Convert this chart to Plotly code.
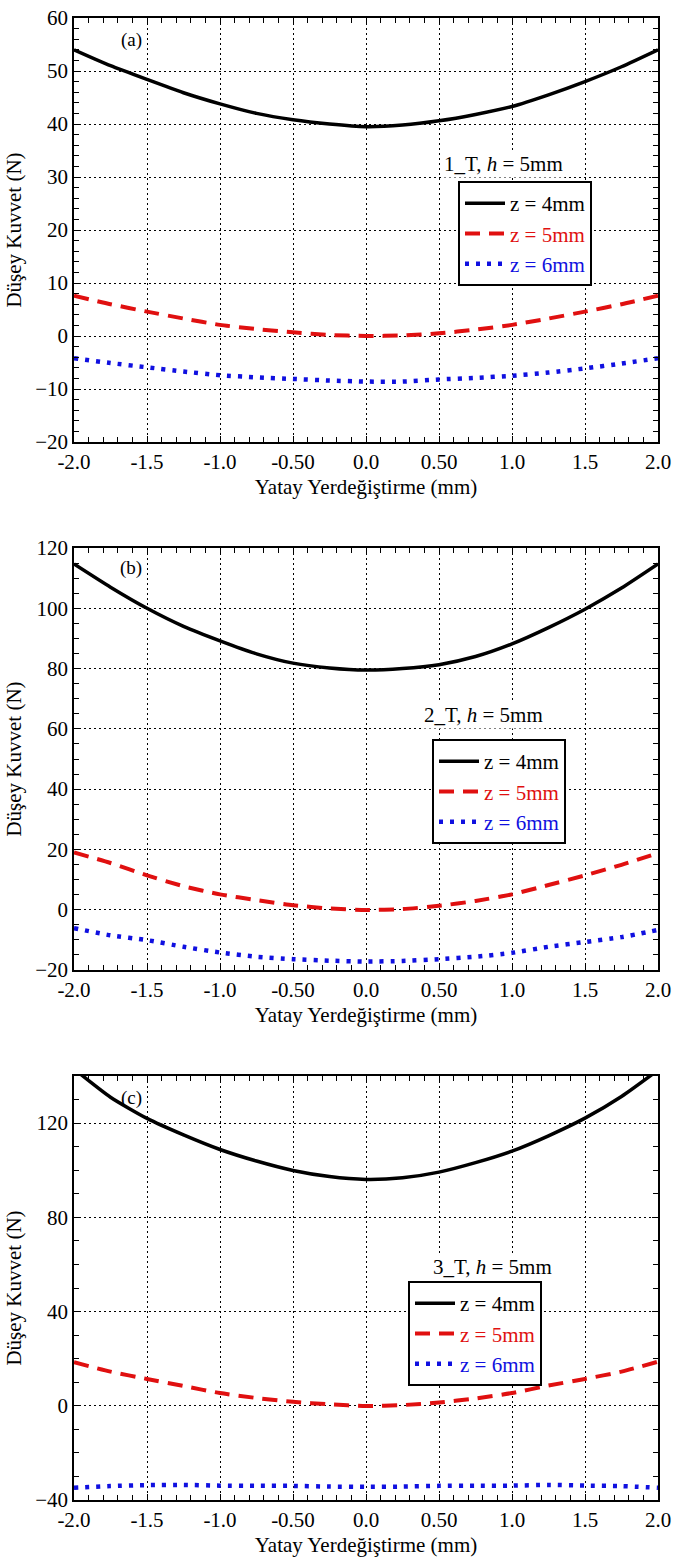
import plotly.graph_objects as go

# ---------------- data ----------------
x_vals = [-2.0, -1.75, -1.5, -1.25, -1.0, -0.75, -0.5, -0.25, 0.0,
          0.25, 0.5, 0.75, 1.0, 1.25, 1.5, 1.75, 2.0]

# panel (a) 1_T
a_z4 = [54.0, 51.0, 48.4, 45.9, 43.8, 42.0, 40.8, 40.0, 39.5,
        39.8, 40.6, 41.8, 43.3, 45.5, 48.0, 50.8, 54.0]
a_z5 = [7.6, 6.0, 4.6, 3.3, 2.1, 1.3, 0.7, 0.2, 0.0,
        0.1, 0.5, 1.2, 2.1, 3.3, 4.6, 6.0, 7.6]
a_z6 = [-4.2, -5.1, -5.9, -6.7, -7.4, -7.8, -8.1, -8.4, -8.6,
        -8.6, -8.2, -7.9, -7.5, -6.9, -6.1, -5.2, -4.2]

# panel (b) 2_T
b_z4 = [114.7, 107.0, 100.0, 94.0, 89.2, 84.9, 81.8, 80.2, 79.5,
        80.0, 81.3, 84.0, 88.2, 93.6, 99.7, 106.7, 114.7]
b_z5 = [19.0, 15.5, 11.4, 7.8, 5.1, 3.2, 1.5, 0.4, -0.1,
        0.2, 1.3, 2.9, 5.1, 8.2, 11.4, 14.9, 18.8]
b_z6 = [-6.1, -8.5, -10.1, -12.3, -14.2, -15.6, -16.4, -16.9, -17.2,
        -17.0, -16.4, -15.6, -14.3, -12.3, -10.7, -9.1, -6.7]

# panel (c) 3_T
c_z4 = [143.0, 131.0, 122.0, 115.0, 108.8, 103.9, 99.9, 97.3, 96.1,
        96.8, 99.2, 103.2, 108.1, 114.6, 122.1, 131.3, 142.5]
c_z5 = [18.5, 14.5, 11.4, 8.4, 5.4, 3.3, 1.7, 0.6, -0.1,
        0.3, 1.4, 3.1, 5.4, 8.6, 11.4, 14.5, 18.7]
c_z6 = [-34.8, -34.1, -33.7, -33.6, -33.9, -34.0, -34.0, -34.3, -34.4,
        -34.3, -34.0, -33.9, -33.9, -33.6, -33.9, -34.1, -34.8]

series_names = ["z = 4mm", "z = 5mm", "z = 6mm"]
panel_labels = ["(a)", "(b)", "(c)"]
panel_titles = ["1_T, <i>h</i> = 5mm", "2_T, <i>h</i> = 5mm", "3_T, <i>h</i> = 5mm"]

x_tickvals = [-2.0, -1.5, -1.0, -0.5, 0.0, 0.5, 1.0, 1.5, 2.0]
x_ticktext = ["-2.0", "-1.5", "-1.0", "-0.50", "0.0", "0.50", "1.0", "1.5", "2.0"]

y_ranges = [[-20, 60], [-20, 120], [-40, 140]]
y_dticks = [10, 20, 40]
y_minor = [2, 5, 10]

x_title = "Yatay Yerdeğiştirme (mm)"
y_title = "Düşey Kuvvet (N)"

# ---------------- layout helpers ----------------
W, H = 673, 1565
ML, MR, MT, MB = 74, 15, 18, 65
PW = W - ML - MR
PH = H - MT - MB

def py(pix):
    return (H - MB - pix) / PH

def px(pix):
    return (pix - ML) / PW

domains = [[py(442), py(18)], [py(970), py(548)], [py(1500), py(1076)]]
legend_pos = [(px(458), py(181)), (px(432), py(739)), (px(408), py(1281))]
title_pos = [(px(503), py(164)), (px(483), py(715)), (px(492), py(1267))]
label_pos = [(px(131), py(40)), (px(131), py(568)), (px(131), py(1098))]

FONT = "Liberation Serif"
RED = "#e01010"
BLUE = "#1010e0"

colors = ["black", RED, BLUE]
dashes = ["solid", "15px,9px", "4px,7px"]
widths = [3.5, 4, 4.5]

data = [(a_z4, a_z5, a_z6), (b_z4, b_z5, b_z6), (c_z4, c_z5, c_z6)]

fig = go.Figure()

for i, panel in enumerate(data):
    xa = "x" if i == 0 else f"x{i+1}"
    ya = "y" if i == 0 else f"y{i+1}"
    lg = "legend" if i == 0 else f"legend{i+1}"
    for j, ys in enumerate(panel):
        fig.add_trace(go.Scatter(
            x=x_vals, y=ys, mode="lines",
            line=dict(color=colors[j], width=widths[j], dash=dashes[j], shape="spline", smoothing=0.6),
            name=f'<span style="color:{colors[j]}">{series_names[j]}</span>',
            xaxis=xa, yaxis=ya, legend=lg, showlegend=True,
        ))

layout = dict(
    width=W, height=H,
    margin=dict(l=ML, r=MR, t=MT, b=MB),
    paper_bgcolor="white", plot_bgcolor="white",
    font=dict(family=FONT, size=21, color="black"),
    annotations=[],
)

for i in range(3):
    sx = "" if i == 0 else str(i + 1)
    common = dict(
        showline=True, linecolor="black", linewidth=1.5, mirror="allticks",
        ticks="inside", ticklen=6, tickwidth=1, tickcolor="black",
        showgrid=True, gridcolor="black", gridwidth=1, griddash="2px,3px",
        zeroline=False, automargin=False,
        tickfont=dict(family=FONT, size=21, color="black"),
    )
    layout["xaxis" + sx] = dict(
        common, range=[-2, 2], tickmode="array", tickvals=x_tickvals, ticktext=x_ticktext,
        minor=dict(dtick=0.1, ticks="inside", ticklen=5, tickcolor="black", showgrid=False),
        anchor="y" + sx, domain=[0, 1],
        title=dict(text=x_title, standoff=6, font=dict(family=FONT, size=21)),
    )
    layout["yaxis" + sx] = dict(
        common, range=y_ranges[i], dtick=y_dticks[i], tick0=0,
        minor=dict(dtick=y_minor[i], tick0=0, ticks="inside", ticklen=5, tickcolor="black", showgrid=False),
        anchor="x" + sx, domain=domains[i],
        title=dict(text=y_title, standoff=8, font=dict(family=FONT, size=21)),
    )
    lgname = "legend" if i == 0 else f"legend{i+1}"
    layout[lgname] = dict(
        x=legend_pos[i][0], y=legend_pos[i][1], xanchor="left", yanchor="top",
        xref="paper", yref="paper",
        bordercolor="black", borderwidth=2, bgcolor="white",
        font=dict(family=FONT, size=21, color="black"),
        itemwidth=40, tracegroupgap=0,
    )
    layout["annotations"].append(dict(
        x=title_pos[i][0], y=title_pos[i][1], xref="paper", yref="paper",
        text=panel_titles[i], showarrow=False, font=dict(family=FONT, size=21),
        xanchor="center", yanchor="middle", bgcolor="white",
    ))
    layout["annotations"].append(dict(
        x=label_pos[i][0], y=label_pos[i][1], xref="paper", yref="paper",
        text=panel_labels[i], showarrow=False, font=dict(family=FONT, size=19),
        xanchor="center", yanchor="middle",
    ))

fig.update_layout(**layout)
fig.write_html("out.html")
